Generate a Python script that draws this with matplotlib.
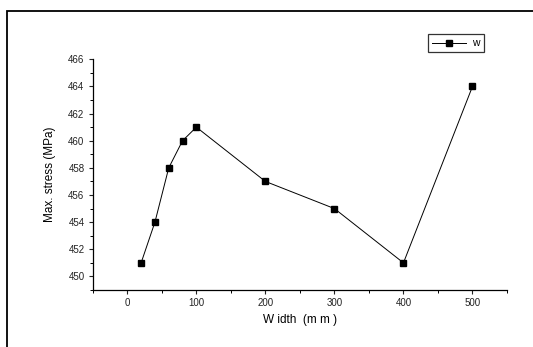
import matplotlib.pyplot as plt
from matplotlib.patches import Rectangle
from matplotlib.ticker import MultipleLocator

plt.rcParams['font.family'] = ['Liberation Sans', 'DejaVu Sans']

width_mm = [20, 40, 60, 80, 100, 200, 300, 400, 500]
max_stress = [451, 454, 458, 460, 461, 457, 455, 451, 464]

W, H = 533, 347
fig = plt.figure(figsize=(W / 100, H / 100), dpi=100)
ax = fig.add_axes([92.8 / W, 1 - 290 / H, (507 - 92.8) / W, (290 - 59.3) / H])

# outer frame running off the right and bottom edges
fig.patches.append(Rectangle((6.5 / W, -0.05), 1.2, 1 - 10.5 / H + 0.05,
                             transform=fig.transFigure, fill=False,
                             edgecolor='black', linewidth=1.3))

ax.plot(width_mm, max_stress, color='black', linewidth=0.7, marker='s',
        markersize=4.5, label='w')

ax.set_xlim(-50, 550)
ax.set_ylim(449, 466)
ax.xaxis.set_major_locator(MultipleLocator(100))
ax.xaxis.set_minor_locator(MultipleLocator(50))
ax.yaxis.set_major_locator(MultipleLocator(2))
ax.yaxis.set_minor_locator(MultipleLocator(1))
ax.set_yticks(range(450, 467, 2))

for s in ['top', 'right']:
    ax.spines[s].set_visible(False)
for s in ['left', 'bottom']:
    ax.spines[s].set_linewidth(0.9)

ax.tick_params(which='major', direction='out', length=3, width=0.8,
               labelsize=7, pad=3, colors='#222222')
ax.tick_params(which='minor', direction='out', length=2, width=0.7)

ax.set_xlabel('W idth  (m m )', fontsize=8.5, labelpad=4)
ax.set_ylabel('Max. stress (MPa)', fontsize=8.5, labelpad=9)

leg = ax.legend(loc='upper right', bbox_to_anchor=(484 / W, 1 - 34 / H),
                bbox_transform=fig.transFigure, fontsize=7.5, frameon=True,
                fancybox=False, edgecolor='black', handlelength=3.3,
                borderpad=0.4, handletextpad=0.6, borderaxespad=0)
leg.get_frame().set_linewidth(0.9)

fig.savefig('out.png', dpi=100)
